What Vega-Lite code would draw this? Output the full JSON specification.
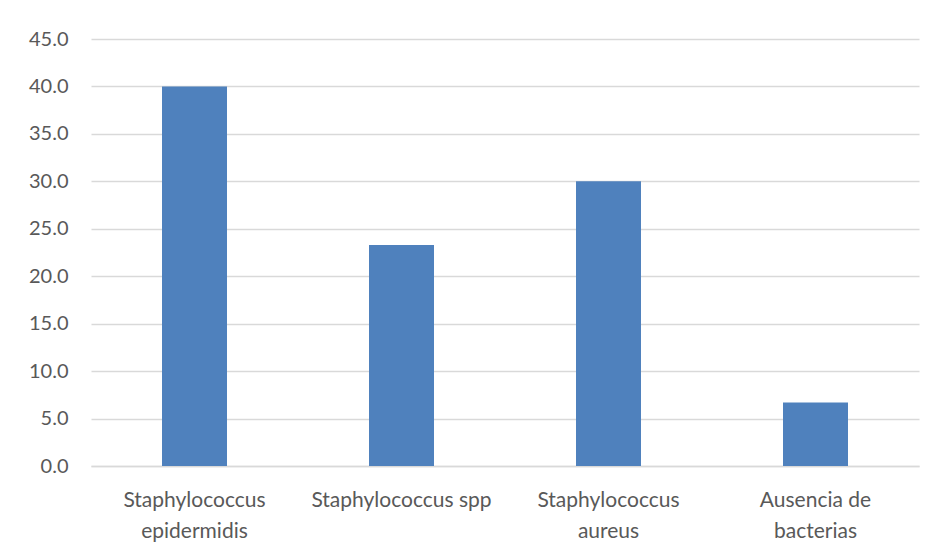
{
  "$schema": "https://vega.github.io/schema/vega-lite/v6.json",
  "width": 828,
  "height": 427,
  "autosize": {"type": "none"},
  "padding": {"left": 91, "top": 39, "right": 19, "bottom": 85},
  "background": "#ffffff",
  "config": {
    "view": {"stroke": null},
    "font": "Lato"
  },
  "data": {
    "values": [
      {"categoria": "Staphylococcus epidermidis", "porcentaje": 40.0},
      {"categoria": "Staphylococcus spp", "porcentaje": 23.3},
      {"categoria": "Staphylococcus aureus", "porcentaje": 30.0},
      {"categoria": "Ausencia de bacterias", "porcentaje": 6.7}
    ]
  },
  "mark": {"type": "bar", "color": "#4F81BD"},
  "encoding": {
    "x": {
      "field": "categoria",
      "type": "nominal",
      "sort": null,
      "scale": {"paddingInner": 0.686, "paddingOuter": 0.343},
      "axis": {
        "title": null,
        "labelAngle": 0,
        "labelFontSize": 21,
        "labelColor": "#595959",
        "labelPadding": 23,
        "labelLineHeight": 31,
        "labelBaseline": "top",
        "labelLimit": 400,
        "ticks": false,
        "domain": true,
        "domainColor": "#D9D9D9",
        "domainWidth": 1.5,
        "labelExpr": "datum.value == 'Staphylococcus epidermidis' ? ['Staphylococcus', 'epidermidis'] : datum.value == 'Staphylococcus aureus' ? ['Staphylococcus', 'aureus'] : datum.value == 'Ausencia de bacterias' ? ['Ausencia de', 'bacterias'] : datum.value"
      }
    },
    "y": {
      "field": "porcentaje",
      "type": "quantitative",
      "scale": {"domain": [0, 45], "nice": false},
      "axis": {
        "title": null,
        "values": [0, 5, 10, 15, 20, 25, 30, 35, 40, 45],
        "format": ".1f",
        "labelFontSize": 20,
        "labelColor": "#595959",
        "labelPadding": 23,
        "ticks": false,
        "domain": false,
        "grid": true,
        "gridColor": "#D9D9D9",
        "gridWidth": 1.5
      }
    }
  }
}
